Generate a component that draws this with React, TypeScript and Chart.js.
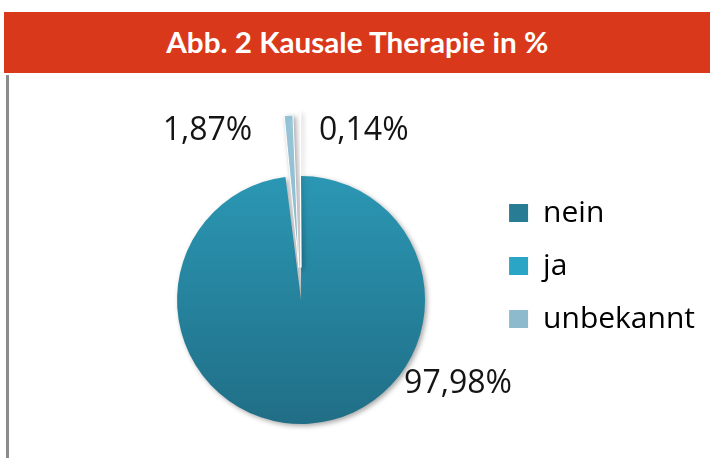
import React, { useEffect, useLayoutEffect, useRef } from "react";
import { Chart, registerables } from "chart.js";

Chart.register(...registerables);

// ---- data ----
const TITLE = "Abb. 2 Kausale Therapie in %";
const categories = ["nein", "ja", "unbekannt"];
const values = [97.98, 1.87, 0.14];
const valueLabels = ["97,98%", "1,87%", "0,14%"];

// ---- style ----
const explodeOffsets = [0, 130, 130];
const legendColors = ["#287D94", "#2AA5C5", "#8DBACC"];
const sliceColors = ["#2687A2", "#9DCDE0", "#C4D6DE"];
// label placement: polar position relative to pie centre (deg, px)
const labelAngles = [28.1, -119, -69.6];
const labelDists = [178, 193, 180];
const TITLE_WIDTH = 382;

const shadowPlugin = {
  id: "pieShadow",
  beforeDatasetsDraw(chart: any) {
    const ctx = chart.ctx;
    ctx.save();
    ctx.shadowColor = "rgba(0,0,0,0.35)";
    ctx.shadowBlur = 5;
    ctx.shadowOffsetX = 2;
    ctx.shadowOffsetY = 2;
  },
  afterDatasetsDraw(chart: any) {
    chart.ctx.restore();
  },
};

const labelPlugin = {
  id: "sliceLabels",
  afterDraw(chart: any) {
    const ctx = chart.ctx;
    const area = chart.chartArea;
    const cx = (area.left + area.right) / 2;
    const cy = (area.top + area.bottom) / 2;
    ctx.save();
    ctx.font = "32px 'Open Sans'";
    ctx.fillStyle = "#141414";
    ctx.textAlign = "center";
    ctx.textBaseline = "middle";
    valueLabels.forEach((t, i) => {
      const a = (labelAngles[i] * Math.PI) / 180;
      ctx.fillText(t, cx + Math.cos(a) * labelDists[i], cy + Math.sin(a) * labelDists[i]);
    });
    ctx.restore();
  },
};

export default function App() {
  const ref = useRef<HTMLCanvasElement | null>(null);
  const titleRef = useRef<HTMLSpanElement | null>(null);

  useLayoutEffect(() => {
    const fit = () => {
      const el = titleRef.current;
      if (!el) return;
      el.style.transform = "none";
      const w = el.getBoundingClientRect().width;
      if (w > 0) el.style.transform = `scaleX(${TITLE_WIDTH / w})`;
    };
    fit();
    if ((document as any).fonts) (document as any).fonts.ready.then(fit);
  }, []);

  useEffect(() => {
    if (!ref.current) return;
    const chart = new Chart(ref.current, {
      type: "pie",
      data: {
        labels: categories,
        datasets: [
          {
            data: values,
            backgroundColor: (c: any) => {
              const ch = c.chart;
              const area = ch.chartArea;
              if (c.dataIndex !== 0 || !area) return sliceColors[c.dataIndex];
              const cy = (area.top + area.bottom) / 2;
              const g = ch.ctx.createLinearGradient(0, cy - 124, 0, cy + 124);
              g.addColorStop(0, "#2B97B4");
              g.addColorStop(1, "#206E86");
              return g;
            },
            borderWidth: [0, 1, 1],
            borderColor: "#ffffff",
            offset: explodeOffsets,
            clip: false,
          } as any,
        ],
      },
      options: {
        responsive: false,
        animation: false,
        radius: 124,
        layout: { padding: { left: 116, right: 5, top: 99, bottom: 33 } },
        plugins: {
          title: { display: false },
          tooltip: { enabled: false },
          legend: {
            position: "right",
            align: "start",
            labels: {
              boxWidth: 19,
              boxHeight: 18,
              padding: 23,
              color: "#1a1a1a",
              font: { family: "'Open Sans'", size: 30 },
              generateLabels: () =>
                categories.map((c, i) => ({
                  text: c,
                  fillStyle: legendColors[i],
                  strokeStyle: legendColors[i],
                  lineWidth: 0,
                  hidden: false,
                  index: i,
                  datasetIndex: 0,
                })),
            },
          },
        },
      } as any,
      plugins: [shadowPlugin, labelPlugin],
    });
    return () => chart.destroy();
  }, []);

  return (
    <div style={{ position: "absolute", left: 0, top: 0, width: 710, height: 458, background: "#fff" }}>
      <div
        style={{
          position: "absolute",
          left: 4,
          top: 12,
          width: 706,
          height: 61,
          background: "#D9391A",
          color: "#fff",
          fontFamily: "Lato, 'Open Sans', sans-serif",
          fontWeight: 700,
          fontSize: 28,
          lineHeight: "61px",
          textAlign: "center",
          whiteSpace: "nowrap",
        }}
      >
        <span ref={titleRef} style={{ display: "inline-block", transformOrigin: "center center" }}>
          {TITLE}
        </span>
      </div>
      <div style={{ position: "absolute", left: 6, top: 75, width: 3, height: 383, background: "#8C8C8C" }} />
      <canvas
        ref={ref}
        width={710}
        height={382}
        style={{ position: "absolute", left: 0, top: 76, width: 710, height: 382 }}
      />
    </div>
  );
}
